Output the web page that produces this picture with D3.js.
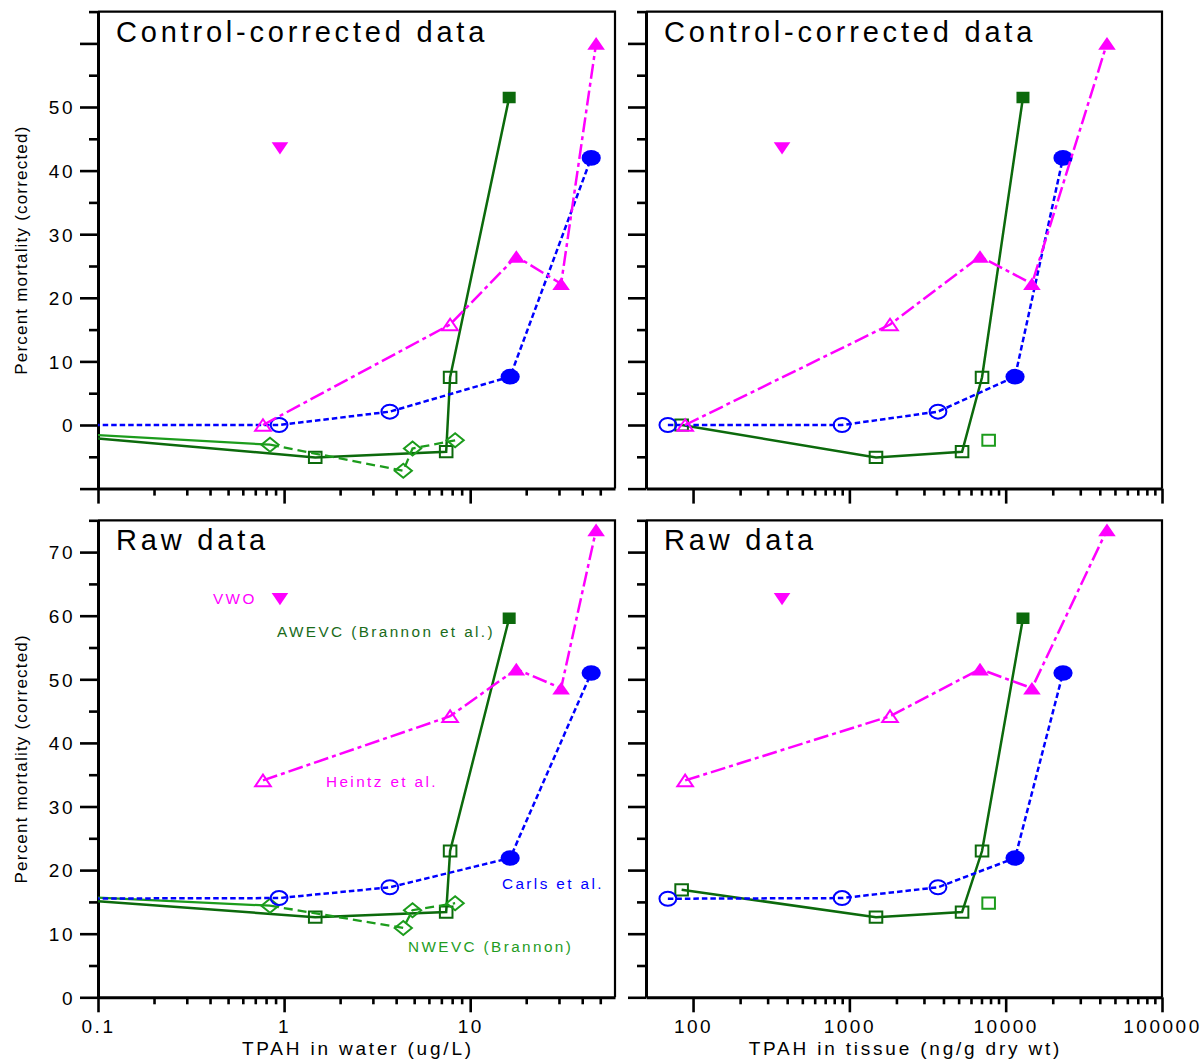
<!DOCTYPE html>
<html><head><meta charset="utf-8">
<script src="https://cdn.jsdelivr.net/npm/d3@7"></script>
<style>
body{margin:0;background:#fff;}
text{font-family:"Liberation Sans",Arial,Helvetica,sans-serif;}
</style></head><body>
<svg id="chart" width="1201" height="1059"></svg>
<script>
// ---------------- data ----------------
// Carls et al. (blue circles)
const waterCarls     = [0.03, 0.94, 3.7, 16.4, 44.7];
const tissueCarls    = [69, 898, 3690, 11480, 23270];
const carlsCorrected = [0, 0, 2.1, 7.6, 42.0];
const carlsRaw       = [15.5, 15.6, 17.3, 21.9, 51.0];
const carlsFilled    = [false, false, false, true, true];

// Heintz et al. (magenta triangles)
const waterHeintz     = [0.77, 7.8, 17.7, 30.8, 47.5];
const tissueHeintz    = [89, 1820, 6850, 14720, 44460];
const heintzCorrected = [0, 15.8, 26.5, 22.2, 60.0];
const heintzRaw       = [34.1, 44.2, 51.6, 48.6, 73.5];
const heintzFilled    = [false, false, true, true, true];

// VWO (magenta inverted triangle)
const waterVWO     = [0.95];
const tissueVWO    = [371];
const vwoCorrected = [43.5];
const vwoRaw       = [62.6];
const vwoFilled    = [true];

// AWEVC (Brannon et al.) (dark green squares)
const waterAWEVC     = [0.015, 1.47, 7.43, 7.8, 16.2];
const tissueAWEVC    = [84.5, 1480, 5260, 7060, 12900];
const awevcCorrected = [0, -5.1, -4.2, 7.5, 51.5];
const awevcRaw       = [16.9, 12.6, 13.4, 23.0, 59.6];
const awevcFilled    = [false, false, false, false, true];

// NWEVC (Brannon) (green diamonds; one tissue value)
const waterNWEVC     = [0.0103, 0.84, 4.37, 4.9, 8.3];
const tissueNWEVC    = [null, null, null, null, 7780];
const nwevcCorrected = [0, -3.1, -7.2, -3.7, -2.4];
const nwevcRaw       = [17.0, 14.4, 10.9, 13.7, 14.8];
const nwevcFilled    = [false, false, false, false, false];

// ticks
const yTicksCorrected      = [-10, 0, 10, 20, 30, 40, 50, 60];
const yLabelsCorrected     = [0, 10, 20, 30, 40, 50];
const yMinorCorrected      = [-5, 5, 15, 25, 35, 45, 55, 65];
const yTicksRaw            = [0, 10, 20, 30, 40, 50, 60, 70];
const yMinorRaw            = [5, 15, 25, 35, 45, 55, 65, 75];
const xTicksWater          = [0.1, 1, 10];
const xTickLabelsWater     = ["0.1", "1", "10"];
const xMinorWater          = [0.2,0.3,0.4,0.5,0.6,0.7,0.8,0.9,2,3,4,5,6,7,8,9,20,30,40,50];
const xTicksTissue         = [100, 1000, 10000, 100000];
const xTickLabelsTissue    = ["100", "1000", "10000", "100000"];
const xMinorTissue         = [200,300,400,500,600,700,800,900,2000,3000,4000,5000,6000,7000,8000,9000,20000,30000,40000,50000,60000,70000,80000,90000];

// ---------------- layout ----------------
const svg = d3.select("#chart");
svg.append("rect").attr("width",1201).attr("height",1059).attr("fill","#fff");

const colL = [98, 615], colR = [646, 1162];
const rowT = [488.6, 11.6], rowB = [997.3, 520.3];

const series = [
  {name:"AWEVC", water:waterAWEVC, tissue:tissueAWEVC, corr:awevcCorrected, raw:awevcRaw, filled:awevcFilled,
   marker:"square", tmarker:"square", color:"#0c6a0c", mcolor:"#0c6a0c", dash:null, width:2.5},
  {name:"NWEVC", water:waterNWEVC, tissue:tissueNWEVC, corr:nwevcCorrected, raw:nwevcRaw, filled:nwevcFilled,
   marker:"diamond", tmarker:"square", color:"#1c9c1c", mcolor:"#1c9c1c", dash:"9,5", width:2.3, firstSolid:true},
  {name:"Carls", water:waterCarls, tissue:tissueCarls, corr:carlsCorrected, raw:carlsRaw, filled:carlsFilled,
   marker:"circle", tmarker:"circle", color:"#0000ff", mcolor:"#0000ff", dash:"5.5,3", width:2.5},
  {name:"Heintz", water:waterHeintz, tissue:tissueHeintz, corr:heintzCorrected, raw:heintzRaw, filled:heintzFilled,
   marker:"tri", tmarker:"tri", color:"#ff00ff", mcolor:"#ff00ff", dash:"15,4,4,4", width:2.5},
  {name:"VWO", water:waterVWO, tissue:tissueVWO, corr:vwoCorrected, raw:vwoRaw, filled:vwoFilled,
   marker:"triDown", tmarker:"triDown", color:"#ff00ff", mcolor:"#ff00ff", dash:null, width:0, noLine:true}
];

function markerPath(type, filled){
  if(type==="circle"){
    const rx = filled?9.6:8.4, ry = filled?7.8:7;
    return `M${-rx},0A${rx},${ry} 0 1,0 ${rx},0A${rx},${ry} 0 1,0 ${-rx},0Z`;
  }
  if(type==="square"){
    const w = filled?6.5:6.3, h = filled?5.8:5.6;
    return `M${-w},${-h}H${w}V${h}H${-w}Z`;
  }
  if(type==="tri"){
    const w = filled?8.8:7.8, h = filled?6.3:5.8;
    return `M0,${-h}L${w},${h}L${-w},${h}Z`;
  }
  if(type==="triDown"){
    return `M-8.3,-6.2L8.3,-6.2L0,6.2Z`;
  }
  if(type==="diamond"){
    return `M0,-7L8.6,0L0,7L-8.6,0Z`;
  }
}

const panels = [
  {id:"tl", xs:"water",  yk:"corr", col:colL, row:rowT, title:"Control-corrected data", ylab:true,  xlab:false},
  {id:"tr", xs:"tissue", yk:"corr", col:colR, row:rowT, title:"Control-corrected data", ylab:false, xlab:false},
  {id:"bl", xs:"water",  yk:"raw",  col:colL, row:rowB, title:"Raw data", ylab:true,  xlab:true},
  {id:"br", xs:"tissue", yk:"raw",  col:colR, row:rowB, title:"Raw data", ylab:false, xlab:true}
];

const tickFont = 19, tickLS = 2.5;

panels.forEach(p => {
  const x = p.xs==="water"
    ? d3.scaleLog().domain([0.1, 60]).range(p.col)
    : d3.scaleLog().domain([50, 100000]).range(p.col);
  const y = p.yk==="corr"
    ? d3.scaleLinear().domain([-10, 65]).range(p.row)
    : d3.scaleLinear().domain([0, 75]).range(p.row);

  const g = svg.append("g");
  const clipId = "clip-"+p.id;
  svg.append("clipPath").attr("id", clipId).append("rect")
    .attr("x", p.col[0]).attr("y", p.row[1])
    .attr("width", p.col[1]-p.col[0]).attr("height", p.row[0]-p.row[1]);

  // frame top/right
  g.append("path")
    .attr("d", `M${p.col[0]},${p.row[1]}H${p.col[1]}V${p.row[0]}`)
    .attr("fill","none").attr("stroke","#000").attr("stroke-width",2.2);

  // y axis
  const yMajor = p.yk==="corr" ? yTicksCorrected : yTicksRaw;
  const yMinor = p.yk==="corr" ? yMinorCorrected : yMinorRaw;
  const yLabs  = p.yk==="corr" ? yLabelsCorrected : yTicksRaw;
  const ya = g.append("g").attr("transform", `translate(${p.col[0]},0)`)
    .call(d3.axisLeft(y).tickValues(yMajor).tickSize(18).tickSizeOuter(0)
      .tickFormat(d => (p.ylab && yLabs.includes(d)) ? d3.format("d")(d) : ""));
  ya.select(".domain").attr("stroke-width",3);
  ya.selectAll(".tick line").attr("stroke-width",2.6);
  ya.selectAll(".tick text").attr("font-size",tickFont).attr("letter-spacing",tickLS)
    .attr("font-family",'"Liberation Sans",Arial,sans-serif').attr("fill","#000")
    .attr("x",-23).attr("dy","0.36em");
  const ym = g.append("g").attr("transform", `translate(${p.col[0]},0)`)
    .call(d3.axisLeft(y).tickValues(yMinor).tickSize(9).tickSizeOuter(0).tickFormat(""));
  ym.select(".domain").remove();
  ym.selectAll(".tick line").attr("stroke-width",2.6);

  // x axis
  const xMajor = p.xs==="water" ? xTicksWater : xTicksTissue;
  const xLabs  = p.xs==="water" ? xTickLabelsWater : xTickLabelsTissue;
  const xMinor = p.xs==="water" ? xMinorWater : xMinorTissue;
  const xa = g.append("g").attr("transform", `translate(0,${p.row[0]})`)
    .call(d3.axisBottom(x).tickValues(xMajor).tickSize(15).tickSizeOuter(0)
      .tickFormat((d,i) => p.xlab ? xLabs[i] : ""));
  xa.select(".domain").attr("stroke-width",3);
  xa.selectAll(".tick line").attr("stroke-width",2.6);
  xa.selectAll(".tick text").attr("font-size",tickFont).attr("letter-spacing",tickLS)
    .attr("font-family",'"Liberation Sans",Arial,sans-serif').attr("fill","#000")
    .attr("y",22).attr("dy","0.71em");
  const xm = g.append("g").attr("transform", `translate(0,${p.row[0]})`)
    .call(d3.axisBottom(x).tickValues(xMinor).tickSize(7).tickSizeOuter(0).tickFormat(""));
  xm.select(".domain").remove();
  xm.selectAll(".tick line").attr("stroke-width",2.6);

  // title
  g.append("text").attr("x", p.col[0]+18).attr("y", p.row[1]+30)
    .attr("font-size",29).attr("letter-spacing",3.8).attr("fill","#000").text(p.title);

  // data
  const dg = g.append("g").attr("clip-path", `url(#${clipId})`);
  series.forEach(s => {
    const xsArr = s[p.xs], ysArr = s[p.yk];
    const pts = xsArr.map((v,i) => ({x:v, y:ysArr[i], f:s.filled[i], i}))
      .filter(d => d.x !== null && d.x !== undefined);
    const line = d3.line().x(d => x(d.x)).y(d => y(d.y));
    if(!s.noLine && pts.length > 1){
      if(s.firstSolid && pts.length === xsArr.length){
        dg.append("path").attr("d", line(pts.slice(0,2))).attr("fill","none")
          .attr("stroke", s.color).attr("stroke-width", s.width);
        dg.append("path").attr("d", line(pts.slice(1))).attr("fill","none")
          .attr("stroke", s.color).attr("stroke-width", s.width).attr("stroke-dasharray", s.dash);
      } else {
        dg.append("path").attr("d", line(pts)).attr("fill","none")
          .attr("stroke", s.color).attr("stroke-width", s.width)
          .attr("stroke-dasharray", s.dash);
      }
    }
    const mtype = p.xs==="water" ? s.marker : s.tmarker;
    dg.selectAll(null).data(pts).join("path")
      .attr("transform", d => `translate(${x(d.x)},${y(d.y)})`)
      .attr("d", d => markerPath(mtype, d.f))
      .attr("fill", d => d.f ? s.mcolor : "none")
      .attr("stroke", d => d.f ? "none" : s.mcolor)
      .attr("stroke-width", 2);
  });

  // axis titles
  if(p.xlab){
    g.append("text").attr("x", (p.col[0]+p.col[1])/2 + 1.4).attr("y", 1055)
      .attr("text-anchor","middle").attr("font-size",19).attr("letter-spacing",2.8).attr("fill","#000")
      .text(p.xs==="water" ? "TPAH in water (ug/L)" : "TPAH in tissue (ng/g dry wt)");
  }
  if(p.ylab){
    g.append("text").attr("transform", `translate(27,${(p.row[0]+p.row[1])/2}) rotate(-90)`)
      .attr("text-anchor","middle").attr("font-size",17).attr("letter-spacing",1.2).attr("fill","#000")
      .text("Percent mortality (corrected)");
  }
});

// annotations (bottom-left panel)
const notes = [
  {t:"VWO", x:213, y:604, c:"#ff00ff"},
  {t:"AWEVC (Brannon et al.)", x:277, y:637, c:"#1a6b1a"},
  {t:"Heintz et al.", x:326, y:787, c:"#ff00ff"},
  {t:"Carls et al.", x:502, y:889, c:"#0000ff"},
  {t:"NWEVC (Brannon)", x:408, y:952, c:"#1f9c1f"}
];
svg.append("g").selectAll("text").data(notes).join("text")
  .attr("x", d => d.x).attr("y", d => d.y)
  .attr("font-size",15.3).attr("letter-spacing",2.4)
  .attr("fill", d => d.c).text(d => d.t);
</script>
</body></html>
